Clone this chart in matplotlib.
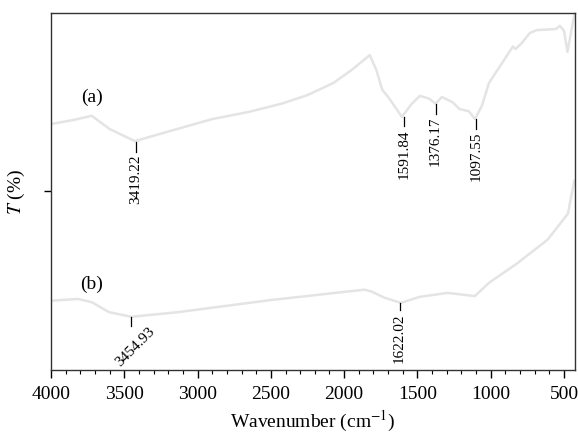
import matplotlib
matplotlib.use('Agg')
import matplotlib.pyplot as plt
from matplotlib.ticker import MultipleLocator

plt.rcParams['font.family'] = ['Liberation Serif', 'DejaVu Serif']
plt.rcParams['mathtext.fontset'] = 'stix'

# Spectrum (a)
wn_a = [4000, 3850, 3722, 3600, 3427, 3200, 2898, 2650, 2426, 2250, 2073, 1950,
        1825, 1780, 1740, 1700, 1606, 1540, 1483, 1420, 1376, 1333, 1260, 1214,
        1150, 1108, 1060, 1012, 930, 849, 830, 790, 733, 685, 600, 555, 528, 500,
        476, 450, 430]
t_a = [68.9, 70.0, 71.2, 67.5, 64.1, 66.8, 70.3, 72.3, 74.6, 77.0, 80.4, 84.0,
       88.2, 84.0, 78.5, 76.5, 70.9, 74.5, 76.8, 76.0, 74.6, 76.5, 75.0, 73.1,
       72.5, 70.3, 74.0, 80.4, 85.5, 90.6, 89.9, 91.5, 94.4, 95.2, 95.4, 95.5,
       96.4, 95.0, 89.1, 95.0, 99.4]

# Spectrum (b)
wn_b = [4000, 3816, 3722, 3604, 3451, 3134, 2499, 1861, 1814, 1722, 1612, 1483,
        1295, 1108, 1012, 825, 612, 473, 446, 430]
t_b = [19.4, 19.9, 19.0, 16.2, 14.9, 16.2, 19.6, 22.5, 22.0, 20.2, 18.8, 20.5,
       21.6, 20.7, 24.4, 29.7, 36.5, 43.8, 49.6, 53.0]

# peak labels: (wavenumber, tick top, tick bottom)
peaks_a = [(3419.22, 63.9, 61.1), (1591.84, 70.9, 68.3),
           (1376.17, 74.5, 71.7), (1097.55, 70.3, 67.6)]
peaks_b = [(1622.02, 18.8, 16.7)]
peak_b_slant = (3454.93, 14.8, 12.3)

line_col = '#e4e4e4'

fig = plt.figure(figsize=(5.78, 4.33), dpi=100)
ax = fig.add_axes([0.0882, 0.1455, 0.9066, 0.8245])

ax.plot(wn_a, t_a, color=line_col, lw=1.8)
ax.plot(wn_b, t_b, color=line_col, lw=1.8)

for w, top, bot in peaks_a + peaks_b:
    ax.plot([w, w], [top, bot], color='black', lw=0.9)
    ax.text(w, bot - 0.8, f'{w:.2f}', rotation=90, ha='center', va='top',
            fontsize=11)

w, top, bot = peak_b_slant
ax.plot([w, w], [top, bot], color='black', lw=0.9)
ax.text(3305, 11.3, f'{w:.2f}', rotation=45, rotation_mode='anchor',
        ha='right', va='center', fontsize=11)

ax.text(3722, 76.5, '(a)', fontsize=14, ha='center', va='center')
ax.text(3722, 24.0, '(b)', fontsize=14, ha='center', va='center')

ax.set_xlim(4000, 425)
ax.set_ylim(0, 100)
ax.xaxis.set_major_locator(MultipleLocator(500))
ax.xaxis.set_minor_locator(MultipleLocator(100))
ax.set_yticks([50])
ax.set_yticklabels([])
ax.tick_params(axis='x', which='major', length=5.5, width=1, labelsize=14, pad=6)
ax.tick_params(axis='x', which='minor', length=3, width=0.8)
ax.tick_params(axis='y', length=5, width=1)

for s in ax.spines.values():
    s.set_color('#333333')
    s.set_linewidth(1.0)

ax.set_xlabel('Wavenumber (cm$^{-1}$)', fontsize=14, labelpad=4)
ax.set_ylabel('$T$ (%)', fontsize=14)
ax.yaxis.set_label_coords(-0.045, 0.5)

fig.savefig('out.png', dpi=100)
